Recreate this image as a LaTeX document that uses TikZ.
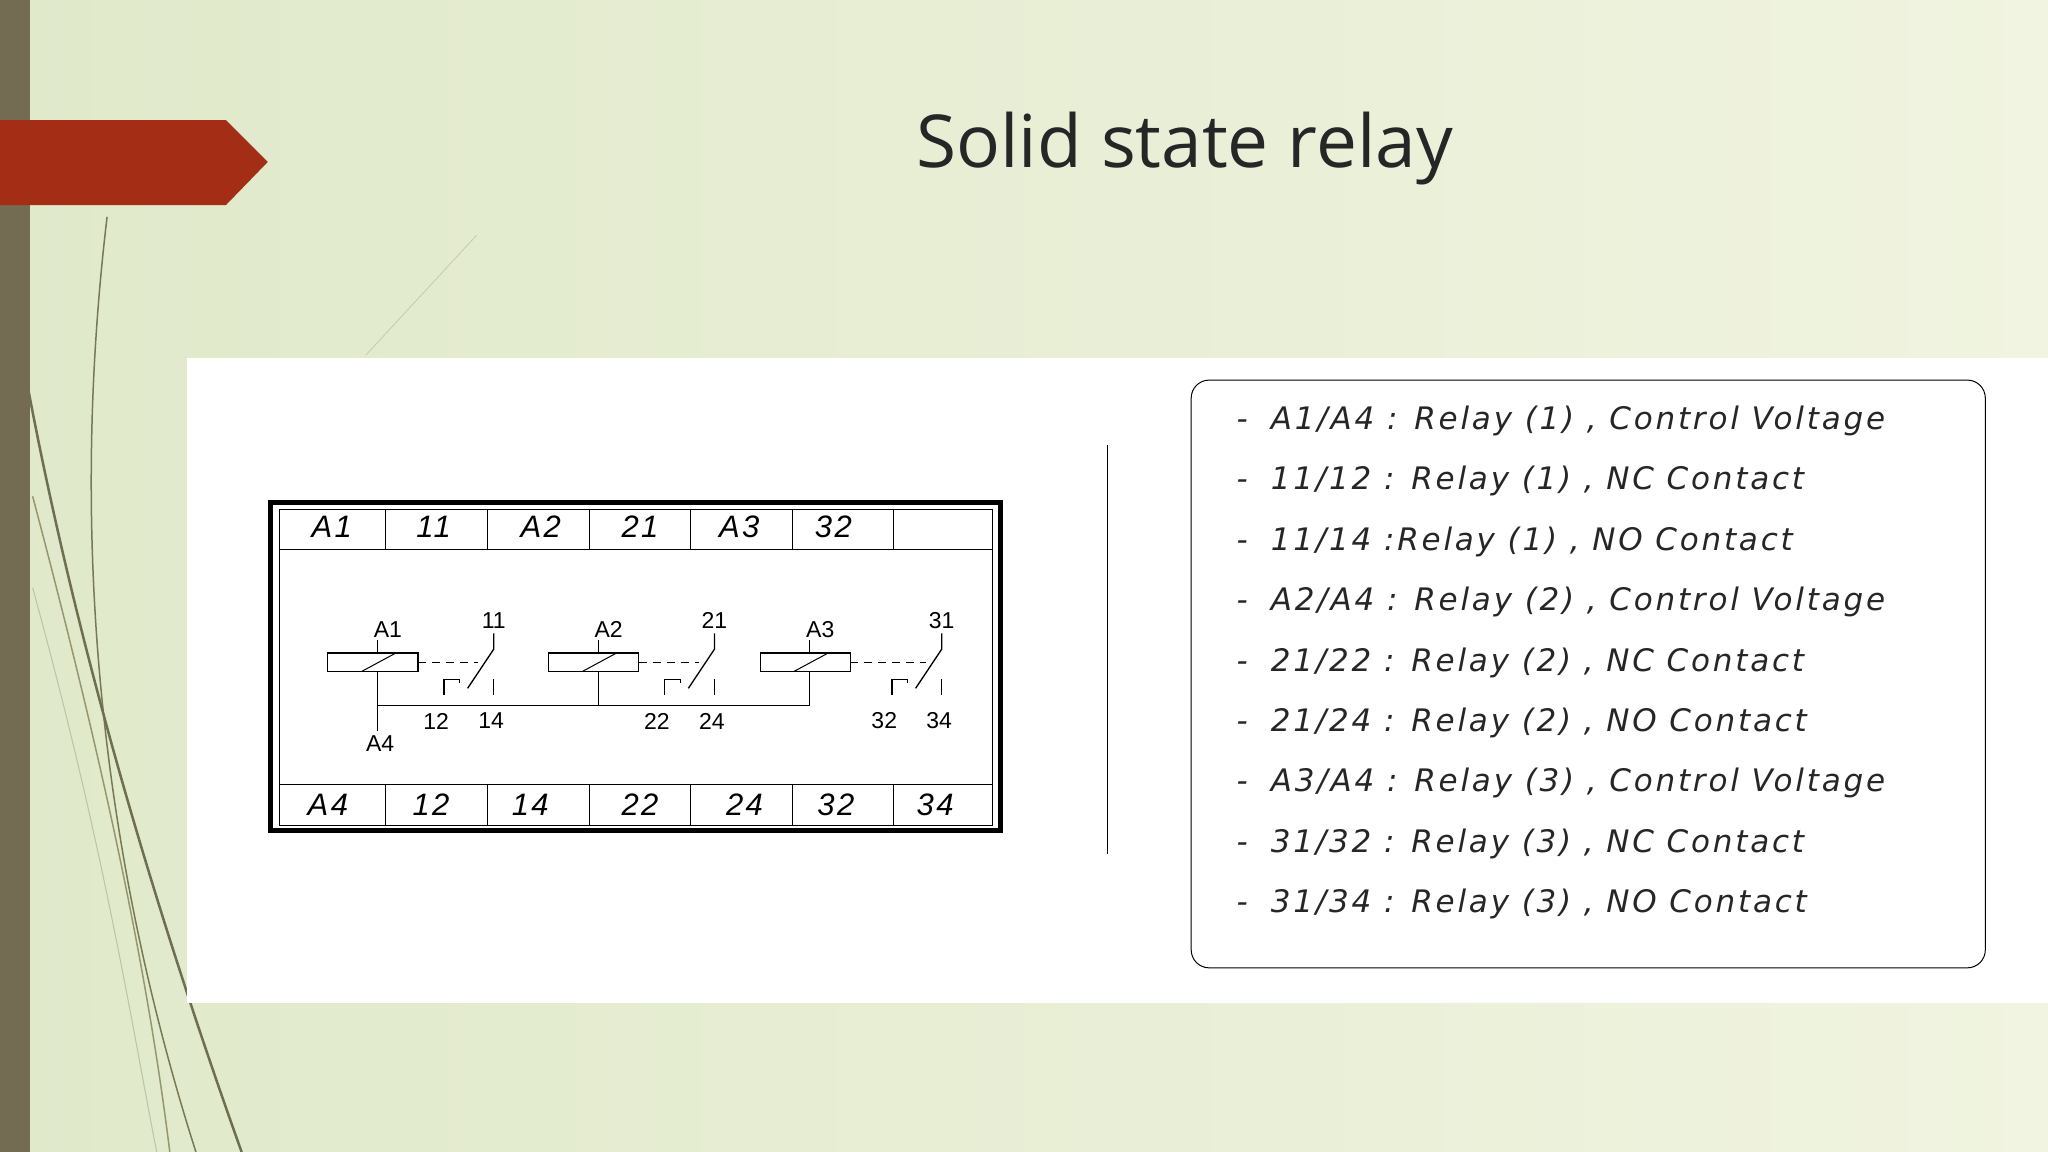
\documentclass[tikz,border=0pt]{standalone}
\usepackage{fontspec}
\setmainfont{Open Sans}
\newfontfamily\listfont[LetterSpace=9]{DejaVu Sans}
\newfontfamily\relfont{Liberation Sans}
\newfontfamily\relwide[LetterSpace=8]{Liberation Sans}
\begin{document}
\begin{tikzpicture}[x=1.306pt,y=-1.306pt,
  tlab/.style={font=\relwide\itshape\fontsize{31}{31}\selectfont,anchor=center},
  slab/.style={font=\relfont\fontsize{23}{23}\selectfont},
  item/.style={font=\listfont\itshape\fontsize{31}{31}\selectfont,anchor=west,text=black!85}]
\useasboundingbox (0,0) rectangle (1568,882);
\shade[left color={rgb,255:red,224;green,233;blue,202}, right color={rgb,255:red,240;green,244;blue,224}] (0,0) rectangle (1568,882);
% decorative lines
\draw[color={rgb,255:red,120;green,120;blue,85},line width=1.5pt] (82,166) .. controls (60,350) and (60,600) .. (150,882);
\draw[color={rgb,255:red,110;green,110;blue,80},line width=2.5pt] (22,300) .. controls (60,500) and (120,700) .. (185,882);
\draw[color={rgb,255:red,150;green,150;blue,110},line width=1.5pt] (25,380) .. controls (70,550) and (110,720) .. (130,882);
\draw[color={rgb,255:red,190;green,195;blue,160},line width=1pt] (25,450) .. controls (80,650) and (100,780) .. (120,882);
\draw[color={rgb,255:red,200;green,200;blue,180},line width=0.8pt] (280,272) -- (365,180);
\fill[color={rgb,255:red,115;green,108;blue,82}] (0,0) rectangle (23,882);
\fill[color={rgb,255:red,163;green,46;blue,21}] (0,92) -- (173,92) -- (205,124) -- (173,157) -- (0,157) -- cycle;
\node[font=\fontsize{73}{73}\selectfont,text=black!85] (title) at (907,114) {Solid state relay};
% white panel
\fill[white] (143,274) rectangle (1568,768);
% relay box
\draw[line width=5pt] (207,385) rectangle (766,636);
\draw[line width=1pt] (214,390) rectangle (760,632);
\draw[line width=1pt] (214,421) -- (760,421) (214,601) -- (760,601);
\foreach \x in {295,373,451,529,607,684}{\draw[line width=1pt] (\x,390)--(\x,421) (\x,601)--(\x,632);}
\foreach \t/\x in {A1/254,11/332,A2/414,21/490,A3/566,32/638}{\node[tlab] (top\t) at (\x,403) {\t};}
\foreach \t/\x [count=\i] in {A4/251,12/330,14/406,22/490,24/570,32/640,34/716}{\node[tlab] (bot\i) at (\x,616) {\t};}
% relays
\foreach \c/\s/\a/\b/\cc/\dd/\n [count=\i] in {289/378/A1/11/12/14/1,458/547/A2/21/22/24/2,620/721/A3/31/32/34/3}{
  \draw[line width=1.3pt] (\c-38,500) rectangle (\c+31,514);
  \draw[line width=1pt] (\c-12,514) -- (\c+14,500);
  \draw[line width=1.3pt] (\c,490) -- (\c,500) (\c,514) -- (\c,540);
  \node[slab] (ca\i) at (\c+8,482) {\a};
  \draw[line width=1.3pt,dash pattern=on 8pt off 6pt] (\c+31,507) -- (\s-12,507);
  \draw[line width=1.3pt] (\s,485) -- (\s,497) -- (\s-20,527);
  \draw[line width=1.3pt] (\s-38,532) -- (\s-38,520) -- (\s-26,520) -- (\s-26,523);
  \draw[line width=1.3pt] (\s,520) -- (\s,532);
  \node[slab] (sa\i) at (\s,475) {\b};
  \node[slab] (sb\i) at (\s-44,552) {\cc};
  \node[slab] (sc\i) at (\s-2,552) {\dd};
}
\draw[line width=1.3pt] (289,540) -- (620,540) (289,540) -- (289,560);
\node[slab] (a4) at (291,569) {A4};
% divider
\draw[line width=1.2pt] (848,341) -- (848,654);
% list box
\draw[line width=1pt,rounded corners=18pt] (912,291) rectangle (1520,741);
\foreach \t [count=\i] in {{A1/A4 : Relay (1) , Control Voltage},{11/12 : Relay (1) , NC Contact},{11/14 :Relay (1) , NO Contact},{A2/A4 : Relay (2) , Control Voltage},{21/22 : Relay (2) , NC Contact},{21/24 : Relay (2) , NO Contact},{A3/A4 : Relay (3) , Control Voltage},{31/32 : Relay (3) , NC Contact},{31/34 : Relay (3) , NO Contact}}{
  \node[item] (it\i) at (944,322+46.3*\i-46.3) {-\hspace{0.75em}\t};
}
\end{tikzpicture}
\end{document}
